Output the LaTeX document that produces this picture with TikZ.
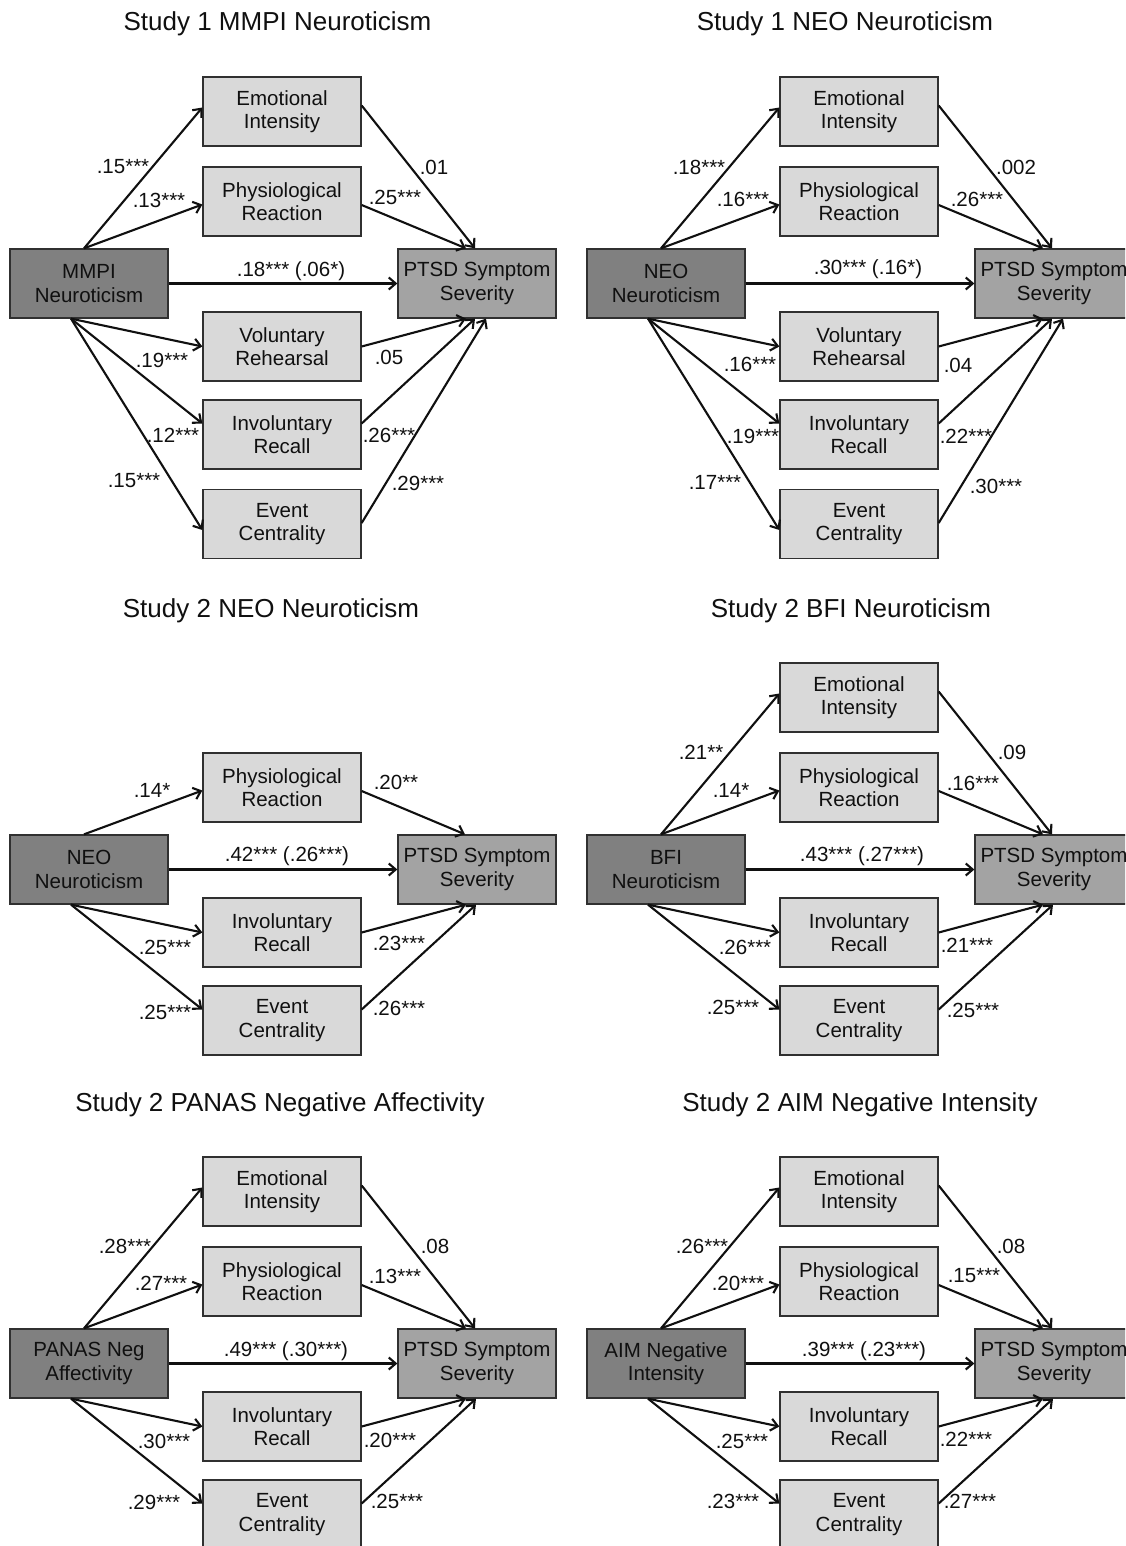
\documentclass[tikz,border=0pt]{standalone}
\usepackage{fontspec}
\setmainfont{Liberation Sans}
\usetikzlibrary{arrows.meta}
\definecolor{srcfill}{HTML}{808080}
\definecolor{outfill}{HTML}{A3A3A3}
\definecolor{medfill}{HTML}{D9D9D9}
\definecolor{edgecol}{HTML}{303030}
\definecolor{inkcol}{HTML}{101010}
\begin{document}
\begin{tikzpicture}[x=1pt,y=-1pt,
  medbox/.style={draw=edgecol, line width=1.3pt, fill=medfill, minimum width=158pt, minimum height=69pt, inner sep=0pt, align=center, text=inkcol, font=\fontsize{20.5}{23.5}\selectfont},
  srcbox/.style={medbox, fill=srcfill},
  outbox/.style={medbox, fill=outfill},
  arr/.style={draw=inkcol, line width=2.1pt, -{Straight Barb[length=7pt,width=12pt]}},
  lbl/.style={inner sep=0pt, text=inkcol, font=\fontsize{20.5}{24}\selectfont},
  ttl/.style={inner sep=0pt, anchor=base, text=inkcol, font=\fontsize{26}{30}\selectfont}]
\useasboundingbox (0,0) rectangle (1125,1546);
\fill[white] (0,0) rectangle (1125,1546);
\clip (0,0) rectangle (1125,1546);

% ---------------- Panel 1 ----------------
\node[ttl] (t1) at (277.5,31) {Study 1 MMPI Neuroticism};
\node[medbox] (p1e) at (282,111.5) {Emotional\\Intensity};
\node[medbox] (p1p) at (282,201.5) {Physiological\\Reaction};
\node[srcbox] (p1s) at (89,283.5) {MMPI\\Neuroticism};
\node[outbox] (p1t) at (477,283.5) {PTSD Symptom\\Severity};
\node[medbox] (p1v) at (282,346.5) {Voluntary\\Rehearsal};
\node[medbox] (p1i) at (282,434.5) {Involuntary\\Recall};
\node[medbox] (p1c) at (282,524) {Event\\Centrality};
\draw[arr] ([xshift=-5pt]p1s.north) -- ([yshift=4pt]p1e.west);
\draw[arr] ([xshift=-5pt]p1s.north) -- ([yshift=-3pt]p1p.west);
\draw[arr] (p1s.east) -- (p1t.west);
\draw[arr] ([xshift=-18pt]p1s.south) -- (p1v.west);
\draw[arr] ([xshift=-18pt]p1s.south) -- ([yshift=11pt]p1i.west);
\draw[arr] ([xshift=-18pt]p1s.south) -- ([yshift=-6pt]p1c.west);
\draw[arr] ([yshift=6pt]p1e.east) -- ([xshift=-2pt]p1t.north);
\draw[arr] ([yshift=-3.5pt]p1p.east) -- ([xshift=-11pt]p1t.north);
\draw[arr] (p1v.east) -- ([xshift=-11pt]p1t.south);
\draw[arr] ([yshift=11pt]p1i.east) -- ([xshift=-2pt]p1t.south);
\draw[arr] ([yshift=1pt]p1c.east) -- ([xshift=9pt]p1t.south);
\node[lbl] (l1a) at (123,167) {.15***};
\node[lbl] (l1b) at (159,200) {.13***};
\node[lbl] (l1c) at (434,167) {.01};
\node[lbl] (l1d) at (395,197) {.25***};
\node[lbl] (l1e) at (291,271) {.18*** (.06*)};
\node[lbl] (l1f) at (162,360) {.19***};
\node[lbl] (l1g) at (389,357) {.05};
\node[lbl] (l1h) at (173,435) {.12***};
\node[lbl] (l1i) at (389,435) {.26***};
\node[lbl] (l1j) at (134,481) {.15***};
\node[lbl] (l1k) at (418,483) {.29***};

% ---------------- Panel 2 ----------------
\node[ttl] (t2) at (845,31) {Study 1 NEO Neuroticism};
\node[medbox] (p2e) at (859,111.5) {Emotional\\Intensity};
\node[medbox] (p2p) at (859,201.5) {Physiological\\Reaction};
\node[srcbox] (p2s) at (666,283.5) {NEO\\Neuroticism};
\node[outbox] (p2t) at (1054,283.5) {PTSD Symptom\\Severity};
\node[medbox] (p2v) at (859,346.5) {Voluntary\\Rehearsal};
\node[medbox] (p2i) at (859,434.5) {Involuntary\\Recall};
\node[medbox] (p2c) at (859,524) {Event\\Centrality};
\draw[arr] ([xshift=-5pt]p2s.north) -- ([yshift=4pt]p2e.west);
\draw[arr] ([xshift=-5pt]p2s.north) -- ([yshift=-3pt]p2p.west);
\draw[arr] (p2s.east) -- (p2t.west);
\draw[arr] ([xshift=-18pt]p2s.south) -- (p2v.west);
\draw[arr] ([xshift=-18pt]p2s.south) -- ([yshift=11pt]p2i.west);
\draw[arr] ([xshift=-18pt]p2s.south) -- ([yshift=-6pt]p2c.west);
\draw[arr] ([yshift=6pt]p2e.east) -- ([xshift=-2pt]p2t.north);
\draw[arr] ([yshift=-3.5pt]p2p.east) -- ([xshift=-11pt]p2t.north);
\draw[arr] (p2v.east) -- ([xshift=-11pt]p2t.south);
\draw[arr] ([yshift=11pt]p2i.east) -- ([xshift=-2pt]p2t.south);
\draw[arr] ([yshift=1pt]p2c.east) -- ([xshift=9pt]p2t.south);
\node[lbl] (l2a) at (699,167) {.18***};
\node[lbl] (l2b) at (743,199) {.16***};
\node[lbl] (l2c) at (1016,167) {.002};
\node[lbl] (l2d) at (977,199) {.26***};
\node[lbl] (l2e) at (868,269) {.30*** (.16*)};
\node[lbl] (l2f) at (750,364) {.16***};
\node[lbl] (l2g) at (958,365) {.04};
\node[lbl] (l2h) at (753,436) {.19***};
\node[lbl] (l2i) at (966,436) {.22***};
\node[lbl] (l2j) at (715,482) {.17***};
\node[lbl] (l2k) at (996,486) {.30***};

% ---------------- Panel 3 ----------------
\node[ttl] (t3) at (271,617) {Study 2 NEO Neuroticism};
\node[medbox] (p3p) at (282,787.5) {Physiological\\Reaction};
\node[srcbox] (p3s) at (89,869.5) {NEO\\Neuroticism};
\node[outbox] (p3t) at (477,869.5) {PTSD Symptom\\Severity};
\node[medbox] (p3i) at (282,932.5) {Involuntary\\Recall};
\node[medbox] (p3c) at (282,1020.5) {Event\\Centrality};
\draw[arr] ([xshift=-5pt]p3s.north) -- ([yshift=-3pt]p3p.west);
\draw[arr] (p3s.east) -- (p3t.west);
\draw[arr] ([xshift=-18pt]p3s.south) -- (p3i.west);
\draw[arr] ([xshift=-18pt]p3s.south) -- ([yshift=11pt]p3c.west);
\draw[arr] ([yshift=-3.5pt]p3p.east) -- ([xshift=-12pt]p3t.north);
\draw[arr] (p3i.east) -- ([xshift=-11pt]p3t.south);
\draw[arr] ([yshift=11pt]p3c.east) -- ([xshift=-1pt]p3t.south);
\node[lbl] (l3a) at (152,790) {.14*};
\node[lbl] (l3b) at (396,782) {.20**};
\node[lbl] (l3c) at (287,856) {.42*** (.26***)};
\node[lbl] (l3d) at (165,947) {.25***};
\node[lbl] (l3e) at (399,943) {.23***};
\node[lbl] (l3f) at (165,1012) {.25***};
\node[lbl] (l3g) at (399,1008) {.26***};

% ---------------- Panel 4 ----------------
\node[ttl] (t4) at (851,617) {Study 2 BFI Neuroticism};
\node[medbox] (p4e) at (859,697.5) {Emotional\\Intensity};
\node[medbox] (p4p) at (859,787.5) {Physiological\\Reaction};
\node[srcbox] (p4s) at (666,869.5) {BFI\\Neuroticism};
\node[outbox] (p4t) at (1054,869.5) {PTSD Symptom\\Severity};
\node[medbox] (p4i) at (859,932.5) {Involuntary\\Recall};
\node[medbox] (p4c) at (859,1020.5) {Event\\Centrality};
\draw[arr] ([xshift=-5pt]p4s.north) -- ([yshift=4pt]p4e.west);
\draw[arr] ([xshift=-5pt]p4s.north) -- ([yshift=-3pt]p4p.west);
\draw[arr] (p4s.east) -- (p4t.west);
\draw[arr] ([xshift=-18pt]p4s.south) -- (p4i.west);
\draw[arr] ([xshift=-18pt]p4s.south) -- ([yshift=11pt]p4c.west);
\draw[arr] ([yshift=6pt]p4e.east) -- ([xshift=-2pt]p4t.north);
\draw[arr] ([yshift=-3.5pt]p4p.east) -- ([xshift=-11pt]p4t.north);
\draw[arr] (p4i.east) -- ([xshift=-11pt]p4t.south);
\draw[arr] ([yshift=11pt]p4c.east) -- ([xshift=-1pt]p4t.south);
\node[lbl] (l4a) at (701,752) {.21**};
\node[lbl] (l4b) at (731,790) {.14*};
\node[lbl] (l4c) at (1012,752) {.09};
\node[lbl] (l4d) at (973,783) {.16***};
\node[lbl] (l4e) at (862,856) {.43*** (.27***)};
\node[lbl] (l4f) at (745,947) {.26***};
\node[lbl] (l4g) at (967,945) {.21***};
\node[lbl] (l4h) at (733,1007) {.25***};
\node[lbl] (l4i) at (973,1010) {.25***};

% ---------------- Panel 5 ----------------
\node[ttl] (t5) at (280,1111) {Study 2 PANAS Negative Affectivity};
\node[medbox] (p5e) at (282,1191.5) {Emotional\\Intensity};
\node[medbox] (p5p) at (282,1281.5) {Physiological\\Reaction};
\node[srcbox] (p5s) at (89,1363.5) {PANAS Neg\\Affectivity};
\node[outbox] (p5t) at (477,1363.5) {PTSD Symptom\\Severity};
\node[medbox] (p5i) at (282,1426.5) {Involuntary\\Recall};
\node[medbox] (p5c) at (282,1514.5) {Event\\Centrality};
\draw[arr] ([xshift=-5pt]p5s.north) -- ([yshift=4pt]p5e.west);
\draw[arr] ([xshift=-5pt]p5s.north) -- ([yshift=-3pt]p5p.west);
\draw[arr] (p5s.east) -- (p5t.west);
\draw[arr] ([xshift=-18pt]p5s.south) -- (p5i.west);
\draw[arr] ([xshift=-18pt]p5s.south) -- ([yshift=11pt]p5c.west);
\draw[arr] ([yshift=6pt]p5e.east) -- ([xshift=-2pt]p5t.north);
\draw[arr] ([yshift=-3.5pt]p5p.east) -- ([xshift=-11pt]p5t.north);
\draw[arr] (p5i.east) -- ([xshift=-11pt]p5t.south);
\draw[arr] ([yshift=11pt]p5c.east) -- ([xshift=-1pt]p5t.south);
\node[lbl] (l5a) at (125,1246) {.28***};
\node[lbl] (l5b) at (161,1283) {.27***};
\node[lbl] (l5c) at (435,1246) {.08};
\node[lbl] (l5d) at (395,1276) {.13***};
\node[lbl] (l5e) at (286,1351) {.49*** (.30***)};
\node[lbl] (l5f) at (164,1441) {.30***};
\node[lbl] (l5g) at (390,1440) {.20***};
\node[lbl] (l5h) at (154,1502) {.29***};
\node[lbl] (l5i) at (397,1501) {.25***};

% ---------------- Panel 6 ----------------
\node[ttl] (t6) at (860,1111) {Study 2 AIM Negative Intensity};
\node[medbox] (p6e) at (859,1191.5) {Emotional\\Intensity};
\node[medbox] (p6p) at (859,1281.5) {Physiological\\Reaction};
\node[srcbox] (p6s) at (666,1363.5) {AIM Negative\\Intensity};
\node[outbox] (p6t) at (1054,1363.5) {PTSD Symptom\\Severity};
\node[medbox] (p6i) at (859,1426.5) {Involuntary\\Recall};
\node[medbox] (p6c) at (859,1514.5) {Event\\Centrality};
\draw[arr] ([xshift=-5pt]p6s.north) -- ([yshift=4pt]p6e.west);
\draw[arr] ([xshift=-5pt]p6s.north) -- ([yshift=-3pt]p6p.west);
\draw[arr] (p6s.east) -- (p6t.west);
\draw[arr] ([xshift=-18pt]p6s.south) -- (p6i.west);
\draw[arr] ([xshift=-18pt]p6s.south) -- ([yshift=11pt]p6c.west);
\draw[arr] ([yshift=6pt]p6e.east) -- ([xshift=-2pt]p6t.north);
\draw[arr] ([yshift=-3.5pt]p6p.east) -- ([xshift=-11pt]p6t.north);
\draw[arr] (p6i.east) -- ([xshift=-11pt]p6t.south);
\draw[arr] ([yshift=11pt]p6c.east) -- ([xshift=-1pt]p6t.south);
\node[lbl] (l6a) at (702,1246) {.26***};
\node[lbl] (l6b) at (738,1283) {.20***};
\node[lbl] (l6c) at (1011,1246) {.08};
\node[lbl] (l6d) at (974,1276) {.15***};
\node[lbl] (l6e) at (864,1351) {.39*** (.23***)};
\node[lbl] (l6f) at (742,1441) {.25***};
\node[lbl] (l6g) at (966,1439) {.22***};
\node[lbl] (l6h) at (733,1501) {.23***};
\node[lbl] (l6i) at (970,1501) {.27***};
\end{tikzpicture}
\end{document}
